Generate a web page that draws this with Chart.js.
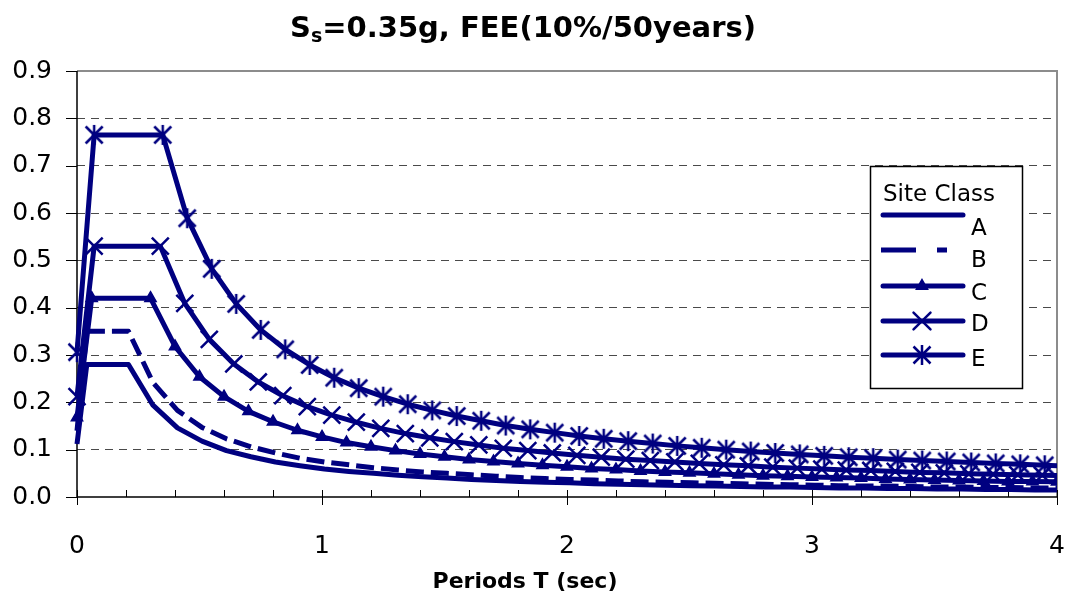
<!DOCTYPE html>
<html><head><meta charset="utf-8">
<script src="https://cdn.jsdelivr.net/npm/chart.js@4/dist/chart.umd.min.js"></script>
<style>html,body{margin:0;padding:0;background:#fff;overflow:hidden}canvas{display:block}</style>
</head><body>
<canvas id="c" width="1078" height="602" style="width:1078px;height:602px"></canvas>
<script>
// ---- values ----
const titleMain = 'S';
const titleSub = 's';
const titleRest = '=0.35g, FEE(10%/50years)';
const xAxisTitle = 'Periods T (sec)';
const legendTitle = 'Site Class';
const siteClasses = ['A', 'B', 'C', 'D', 'E'];
const xTickLabels = ['0', '1', '2', '3', '4'];

const periodsAB = [0, 0.04, 0.21, 0.31, 0.41, 0.51, 0.61, 0.71, 0.81, 0.91, 1.01, 1.11, 1.21, 1.31, 1.41, 1.51, 1.61, 1.71, 1.81, 1.91, 2.01, 2.11, 2.21, 2.31, 2.41, 2.51, 2.61, 2.71, 2.81, 2.91, 3.01, 3.11, 3.21, 3.31, 3.41, 3.51, 3.61, 3.71, 3.81, 3.91, 4.01];
const saA = [0.112, 0.28, 0.28, 0.194, 0.146, 0.118, 0.098, 0.085, 0.074, 0.066, 0.059, 0.054, 0.050, 0.046, 0.043, 0.040, 0.037, 0.035, 0.033, 0.031, 0.030, 0.028, 0.027, 0.026, 0.025, 0.024, 0.023, 0.022, 0.021, 0.021, 0.020, 0.019, 0.019, 0.018, 0.018, 0.017, 0.017, 0.016, 0.016, 0.015, 0.015];
const saB = [0.14, 0.35, 0.35, 0.242, 0.183, 0.147, 0.123, 0.106, 0.093, 0.082, 0.074, 0.068, 0.062, 0.057, 0.053, 0.050, 0.047, 0.044, 0.041, 0.039, 0.037, 0.036, 0.034, 0.032, 0.031, 0.030, 0.029, 0.028, 0.027, 0.026, 0.025, 0.024, 0.023, 0.023, 0.022, 0.021, 0.021, 0.020, 0.020, 0.019, 0.019];
const periodsC = [0, 0.06, 0.30, 0.40, 0.50, 0.60, 0.70, 0.80, 0.90, 1.00, 1.10, 1.20, 1.30, 1.40, 1.50, 1.60, 1.70, 1.80, 1.90, 2.00, 2.10, 2.20, 2.30, 2.40, 2.50, 2.60, 2.70, 2.80, 2.90, 3.00, 3.10, 3.20, 3.30, 3.40, 3.50, 3.60, 3.70, 3.80, 3.90, 4.00, 4.10];
const saC = [0.168, 0.42, 0.42, 0.318, 0.254, 0.212, 0.181, 0.159, 0.141, 0.127, 0.115, 0.106, 0.098, 0.091, 0.085, 0.079, 0.075, 0.071, 0.067, 0.064, 0.060, 0.058, 0.055, 0.053, 0.051, 0.049, 0.047, 0.045, 0.044, 0.042, 0.041, 0.040, 0.038, 0.037, 0.036, 0.035, 0.034, 0.033, 0.033, 0.032, 0.031];
const periodsD = [0, 0.07, 0.34, 0.44, 0.54, 0.64, 0.74, 0.84, 0.94, 1.04, 1.14, 1.24, 1.34, 1.44, 1.54, 1.64, 1.74, 1.84, 1.94, 2.04, 2.14, 2.24, 2.34, 2.44, 2.54, 2.64, 2.74, 2.84, 2.94, 3.04, 3.14, 3.24, 3.34, 3.44, 3.54, 3.64, 3.74, 3.84, 3.94, 4.04];
const saD = [0.212, 0.53, 0.53, 0.409, 0.333, 0.281, 0.243, 0.214, 0.191, 0.173, 0.158, 0.145, 0.134, 0.125, 0.117, 0.110, 0.103, 0.098, 0.093, 0.088, 0.084, 0.080, 0.077, 0.074, 0.071, 0.068, 0.066, 0.063, 0.061, 0.059, 0.057, 0.056, 0.054, 0.052, 0.051, 0.049, 0.048, 0.047, 0.046, 0.045];
const periodsE = [0, 0.07, 0.35, 0.45, 0.55, 0.65, 0.75, 0.85, 0.95, 1.05, 1.15, 1.25, 1.35, 1.45, 1.55, 1.65, 1.75, 1.85, 1.95, 2.05, 2.15, 2.25, 2.35, 2.45, 2.55, 2.65, 2.75, 2.85, 2.95, 3.05, 3.15, 3.25, 3.35, 3.45, 3.55, 3.65, 3.75, 3.85, 3.95, 4.05];
const saE = [0.306, 0.765, 0.765, 0.589, 0.482, 0.408, 0.353, 0.312, 0.279, 0.252, 0.230, 0.212, 0.196, 0.183, 0.171, 0.161, 0.151, 0.143, 0.136, 0.129, 0.123, 0.118, 0.113, 0.108, 0.104, 0.100, 0.096, 0.093, 0.090, 0.087, 0.084, 0.082, 0.079, 0.077, 0.075, 0.073, 0.071, 0.069, 0.067, 0.065];

// ---- styling ----
const NAVY = '#000080';
const FONT = '"DejaVu Sans", "Liberation Sans", Arial, sans-serif';

function makeAsterisk() {
  const c = document.createElement('canvas');
  c.width = 22; c.height = 22;
  const g = c.getContext('2d');
  g.strokeStyle = NAVY; g.lineWidth = 2.5;
  g.beginPath();
  g.moveTo(2.5, 2.5); g.lineTo(19.5, 19.5);
  g.moveTo(19.5, 2.5); g.lineTo(2.5, 19.5);
  g.moveTo(11, 1); g.lineTo(11, 21);
  g.stroke();
  return c;
}
const asterisk = makeAsterisk();

function pts(xs, ys) { return xs.map((x, i) => ({ x: x, y: ys[i] })); }
const clipBox = { left: 20, top: 20, right: 0, bottom: 20 };

const datasets = [
  { label: siteClasses[0], data: pts(periodsAB, saA), borderColor: NAVY, backgroundColor: NAVY, borderWidth: 5, pointRadius: 0, clip: clipBox },
  { label: siteClasses[1], data: pts(periodsAB, saB), borderColor: NAVY, backgroundColor: NAVY, borderWidth: 5, borderDash: [18, 7], pointRadius: 0, clip: clipBox },
  { label: siteClasses[2], data: pts(periodsC, saC), borderColor: NAVY, backgroundColor: NAVY, borderWidth: 5, pointStyle: 'triangle', pointRadius: 6.5, pointBorderWidth: 1.5, clip: clipBox },
  { label: siteClasses[3], data: pts(periodsD, saD), borderColor: NAVY, backgroundColor: NAVY, borderWidth: 5, pointStyle: 'crossRot', pointRadius: 12, pointBorderWidth: 2.5, clip: clipBox },
  { label: siteClasses[4], data: pts(periodsE, saE), borderColor: NAVY, backgroundColor: NAVY, borderWidth: 5, pointStyle: asterisk, pointRadius: 11, pointBorderWidth: 2.5, clip: clipBox }
];

const framePlugin = {
  id: 'frame',
  beforeDatasetsDraw(chart) {
    const { ctx, chartArea: a, scales } = chart;
    ctx.save();
    ctx.strokeStyle = '#8c8c8c'; ctx.lineWidth = 2;
    ctx.beginPath();
    ctx.moveTo(a.left, a.top); ctx.lineTo(a.right, a.top); ctx.lineTo(a.right, a.bottom);
    ctx.stroke();
    ctx.strokeStyle = '#000'; ctx.lineWidth = 1.5;
    ctx.beginPath();
    ctx.moveTo(a.left, a.top); ctx.lineTo(a.left, a.bottom); ctx.lineTo(a.right, a.bottom);
    ctx.stroke();
    ctx.lineWidth = 1;
    ctx.beginPath();
    scales.y.ticks.forEach(t => {
      const y = Math.round(scales.y.getPixelForValue(t.value)) + 0.5;
      ctx.moveTo(a.left - 11, y); ctx.lineTo(a.left, y);
    });
    for (let k = 0; k <= 20; k++) {
      const v = k * 0.2;
      const x = Math.round(scales.x.getPixelForValue(v)) + 0.5;
      if (k % 5 === 0) { ctx.moveTo(x, a.bottom - 7); ctx.lineTo(x, a.bottom + 8); }
      else { ctx.moveTo(x, a.bottom - 7); ctx.lineTo(x, a.bottom); }
    }
    ctx.stroke();
    ctx.restore();
  },
  afterDraw(chart) {
    const ctx = chart.ctx;
    ctx.save();
    ctx.fillStyle = '#000';
    ctx.textBaseline = 'alphabetic';
    const big = 'bold 29px ' + FONT, small = 'bold 19px ' + FONT;
    ctx.font = big; const w1 = ctx.measureText(titleMain).width; const w3 = ctx.measureText(titleRest).width;
    ctx.font = small; const w2 = ctx.measureText(titleSub).width;
    let x = 523 - (w1 + w2 + w3) / 2;
    ctx.font = big; ctx.fillText(titleMain, x, 37); x += w1;
    ctx.font = small; ctx.fillText(titleSub, x, 42); x += w2;
    ctx.font = big; ctx.fillText(titleRest, x, 37);
    // x-axis title (positioned as in the reference, left of the plot centre)
    ctx.font = 'bold 22px ' + FONT;
    ctx.textAlign = 'center';
    ctx.fillText(xAxisTitle, 525, 588);
    ctx.restore();
  }
};

const legendPlugin = {
  id: 'siteLegend',
  afterDatasetsDraw(chart) {
    const ctx = chart.ctx;
    ctx.save();
    ctx.fillStyle = '#fff'; ctx.fillRect(870, 166, 153, 223);
    ctx.strokeStyle = '#000'; ctx.lineWidth = 1.5; ctx.strokeRect(870.5, 166.5, 152, 222);
    ctx.fillStyle = '#000'; ctx.font = '23px ' + FONT; ctx.textBaseline = 'alphabetic';
    ctx.fillText(legendTitle, 883, 201);
    const lineY = [215, 250, 286, 321, 355];
    const textY = [235, 267, 300, 331, 366];
    chart.data.datasets.forEach((ds, i) => {
      ctx.save();
      ctx.strokeStyle = NAVY; ctx.fillStyle = NAVY; ctx.lineWidth = 5;
      ctx.beginPath();
      if (ds.borderDash) { ctx.lineCap = 'butt'; ctx.setLineDash([35, 21]); ctx.moveTo(881, lineY[i]); ctx.lineTo(947, lineY[i]); }
      else { ctx.lineCap = 'round'; ctx.moveTo(883, lineY[i]); ctx.lineTo(963, lineY[i]); }
      ctx.stroke();
      ctx.setLineDash([]);
      if (ds.pointRadius > 0) {
        ctx.lineWidth = ds.pointBorderWidth;
        Chart.helpers.drawPoint(ctx, { pointStyle: ds.pointStyle, radius: ds.pointRadius, rotation: 0, borderWidth: ds.pointBorderWidth }, 922, lineY[i]);
      }
      ctx.restore();
      ctx.fillStyle = '#000';
      ctx.fillText(ds.label, 971, textY[i]);
    });
    ctx.restore();
  }
};

new Chart(document.getElementById('c'), {
  type: 'line',
  data: { datasets: datasets },
  plugins: [framePlugin, legendPlugin],
  options: {
    responsive: false,
    devicePixelRatio: 1,
    animation: false,
    layout: { padding: { top: 71, right: 21, left: 0, bottom: 0 } },
    elements: { line: { tension: 0, borderJoinStyle: 'round' } },
    plugins: { legend: { display: false }, title: { display: false }, tooltip: { enabled: false } },
    scales: {
      x: {
        type: 'linear', min: 0, max: 4, position: 'bottom',
        afterFit(s) { s.height = 105; s.paddingLeft = 0; s.paddingRight = 0; },
        grid: { display: false, drawTicks: false },
        border: { display: false },
        ticks: { stepSize: 1, padding: 34, color: '#000', font: { family: FONT, size: 25 }, callback: (v, i) => xTickLabels[i] },
        title: { display: false }
      },
      y: {
        min: 0, max: 0.9,
        afterFit(s) { s.width = 77; s.paddingTop = 0; s.paddingBottom = 0; },
        grid: { drawTicks: false, lineWidth: 1, color: c => (c.tick && c.tick.value > 0.05 && c.tick.value < 0.85) ? '#4a4a4a' : 'rgba(0,0,0,0)' },
        border: { display: false, dash: [8, 6] },
        ticks: { stepSize: 0.1, padding: 25, color: '#000', font: { family: FONT, size: 25 }, callback: v => v.toFixed(1) }
      }
    }
  }
});
</script>
</body></html>
